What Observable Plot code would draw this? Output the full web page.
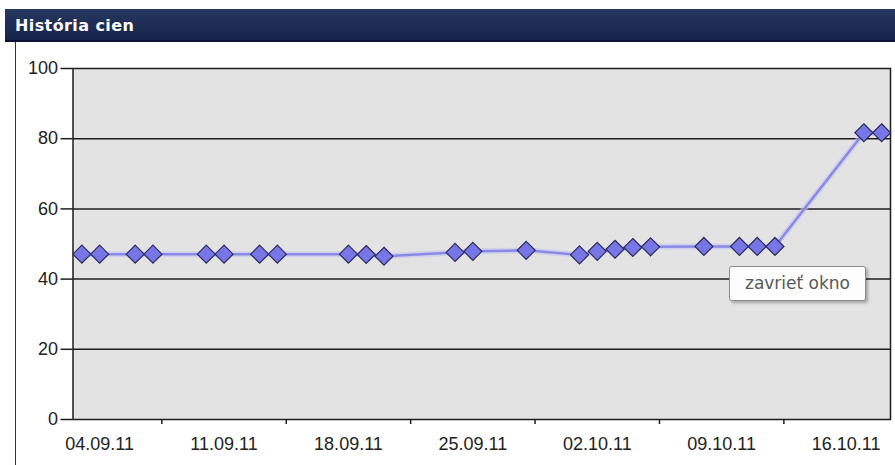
<!DOCTYPE html>
<html>
<head>
<meta charset="utf-8">
<script src="https://cdn.jsdelivr.net/npm/d3@7"></script>
<script src="https://cdn.jsdelivr.net/npm/@observablehq/plot@0.6"></script>
<style>
  html, body { margin: 0; padding: 0; background: #ffffff; }
  #wrap { position: relative; width: 895px; height: 465px; overflow: hidden; background: #fff; }
  #title {
    position: absolute; left: 5px; top: 9px; width: 880px; height: 29px;
    padding: 2px 0 0 10px;
    background: linear-gradient(#26375f, #17244c);
    border-bottom: 2px solid #0c1330;
    color: #fff; font: bold 16px "DejaVu Sans", Verdana, sans-serif; line-height: 29px;
    letter-spacing: 0.4px;
  }
  #chart { position: absolute; left: 0; top: 42px; }
  #edge { position: absolute; left: 15px; top: 42px; width: 1px; height: 423px; background: #333; z-index: 2; }
  #tip {
    position: absolute; left: 729px; top: 266px; width: 135px; height: 33px;
    border: 1px solid #8c8c8c; border-radius: 3px; background: #fdfdfd;
    box-shadow: 2px 2px 3px rgba(0,0,0,0.28);
    color: #585858; font: 17px "DejaVu Sans", Verdana, sans-serif; line-height: 33px;
    text-align: center; z-index: 3;
  }
</style>
</head>
<body>
<div id="wrap">
  <div id="title">História cien</div>
  <div id="chart"></div>
  <div id="edge"></div>
  <div id="tip">zavrieť okno</div>
</div>
<script>
const dateLabels = ["04.09.11","11.09.11","18.09.11","25.09.11","02.10.11","09.10.11","16.10.11"];
const priceDates = ["03.09.11","04.09.11","06.09.11","07.09.11","10.09.11","11.09.11","13.09.11","14.09.11",
  "18.09.11","19.09.11","20.09.11","24.09.11","25.09.11","28.09.11","01.10.11","02.10.11","03.10.11",
  "04.10.11","05.10.11","08.10.11","10.10.11","11.10.11","12.10.11","17.10.11","18.10.11"];
const prices = [47.1,47.1,47.1,47.1,47.1,47.1,47.1,47.1,
  47.1,47.0,46.5,47.6,47.9,48.2,46.9,47.9,48.5,
  49.0,49.2,49.3,49.3,49.3,49.3,81.7,81.7];
const yTicks = [0,20,40,60,80,100];
const gridValues = [20,40,60,80];

const parse = d3.utcParse("%d.%m.%y");
const fmt = d3.utcFormat("%d.%m.%y");
const data = priceDates.map((d, i) => ({date: parse(d), price: prices[i]}));
const labelDates = dateLabels.map(parse);
const halfDay = 12 * 3600 * 1000;
const tickDates = labelDates.slice(1).map((d, i) => new Date((+d + +labelDates[i]) / 2));
const xDomain = [new Date(+data[0].date - halfDay), new Date(+data[data.length - 1].date + halfDay)];

const chart = Plot.plot({
  width: 895,
  height: 423,
  marginTop: 26,
  marginBottom: 46,
  marginLeft: 72.5,
  marginRight: 5,
  style: {background: "transparent", color: "#222", fontFamily: "'Liberation Sans', Arial, sans-serif", fontSize: "18px"},
  x: {type: "utc", domain: xDomain},
  y: {domain: [0, 100]},
  marks: [
    Plot.frame({fill: "#e3e3e3"}),
    Plot.ruleY(gridValues, {stroke: "#1e1e1e", strokeWidth: 1.5}),
    Plot.frame({stroke: "#1e1e1e", strokeWidth: 1.5}),
    Plot.axisY({ticks: yTicks, tickSize: 12, tickPadding: 3, fontSize: 18, label: null, stroke: "#1e1e1e", strokeWidth: 1.5}),
    Plot.axisX({ticks: tickDates, tickSize: 5, tickFormat: () => "", label: null, stroke: "#1e1e1e", strokeWidth: 1.5}),
    Plot.axisX({ticks: labelDates, tickSize: 0, tickPadding: 18, tickFormat: fmt, fontSize: 18, label: null}),
    Plot.line(data, {x: "date", y: "price", stroke: "#c4c4f4", strokeWidth: 6, strokeOpacity: 0.6}),
    Plot.line(data, {x: "date", y: "price", stroke: "#8a8ae6", strokeWidth: 2.5}),
    Plot.dot(data, {x: "date", y: "price", symbol: "diamond2", r: 8.1, fill: "#7676e6", stroke: "#2d2d5c", strokeWidth: 1.2})
  ]
});
document.getElementById("chart").appendChild(chart);
</script>
</body>
</html>
